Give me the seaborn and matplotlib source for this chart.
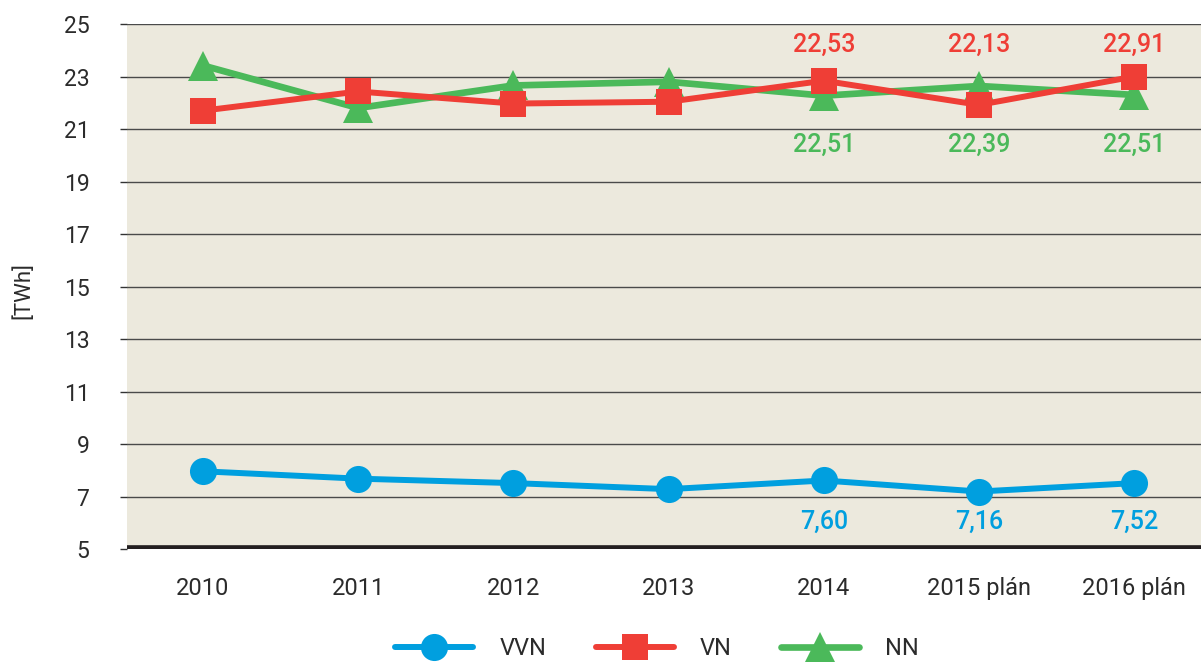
import matplotlib
matplotlib.use("Agg")
import matplotlib.pyplot as plt
import pandas as pd
import seaborn as sns

roky = ["2010", "2011", "2012", "2013", "2014", "2015 plán", "2016 plán"]
vvn = [7.96, 7.68, 7.51, 7.28, 7.61, 7.19, 7.51]
vn = [21.70, 22.43, 21.97, 22.04, 22.84, 21.92, 23.00]
nn = [23.42, 21.80, 22.66, 22.80, 22.27, 22.64, 22.30]

# popisky hodnot (jen posledni tri roky)
popisky_vvn = ["7,60", "7,16", "7,52"]
popisky_vn = ["22,53", "22,13", "22,91"]
popisky_nn = ["22,51", "22,39", "22,51"]

MODRA = "#009FDF"
CERVENA = "#EF3E36"
ZELENA = "#4BB95A"
POZADI = "#ECE9DD"
TEXT = "#2b2b2b"


def main() -> None:
    sns.set_theme(style="white")
    plt.rcParams["font.family"] = ["Roboto", "DejaVu Sans"]

    df = pd.DataFrame({"rok": roky, "VVN": vvn, "VN": vn, "NN": nn})

    fig = plt.figure(figsize=(12.01, 6.62), dpi=100)
    ax = fig.add_axes([0.1057, 0.1707, 0.8943, 0.7930])
    ax.set_facecolor(POZADI)

    sns.lineplot(data=df, x="rok", y="VVN", ax=ax, color=MODRA, marker="o",
                 markersize=19.5, linewidth=4.3, markeredgewidth=0, label="VVN",
                 sort=False, zorder=3)
    sns.lineplot(data=df, x="rok", y="NN", ax=ax, color=ZELENA, marker="^",
                 markersize=22, linewidth=4.8, markeredgewidth=0, label="NN",
                 sort=False, zorder=3)
    sns.lineplot(data=df, x="rok", y="VN", ax=ax, color=CERVENA, marker="s",
                 markersize=18.5, linewidth=4.3, markeredgewidth=0, label="VN",
                 sort=False, zorder=4)

    ax.set_ylim(5, 25)
    ax.set_xlim(-0.49, 6.43)
    ax.set_yticks(range(5, 26, 2))
    ax.set_xlabel("")
    ax.set_ylabel("[TWh]", fontsize=16, color=TEXT)
    ax.yaxis.set_label_coords(-0.086, 0.493)

    for y in range(7, 26, 2):
        ax.axhline(y, color="#4a4a4a", linewidth=1.0, zorder=1)
    ax.axhline(5, color="#231f20", linewidth=5.5, zorder=5)

    for s in ["left", "right", "top", "bottom"]:
        ax.spines[s].set_visible(False)

    ax.tick_params(axis="y", length=5, width=1, color="#333333", labelsize=16.5,
                   labelcolor=TEXT, pad=22, left=True)
    ax.tick_params(axis="x", length=0, labelsize=17, labelcolor=TEXT, pad=20)

    for i, t in enumerate(popisky_vn):
        ax.text(4 + i, 24.2, t, color=CERVENA, fontsize=18, fontweight="medium",
                ha="center", va="center")
    for i, t in enumerate(popisky_nn):
        ax.text(4 + i, 20.38, t, color=ZELENA, fontsize=18, fontweight="medium",
                ha="center", va="center")
    for i, t in enumerate(popisky_vvn):
        ax.text(4 + i, 6.03, t, color=MODRA, fontsize=18, fontweight="medium",
                ha="center", va="center")

    handles, labels = ax.get_legend_handles_labels()
    poradi = [labels.index(n) for n in ["VVN", "VN", "NN"]]
    ax.legend([handles[i] for i in poradi], [labels[i] for i in poradi],
              loc="center", bbox_to_anchor=(0.4935, -0.19), ncol=3,
              frameon=False, fontsize=17, handlelength=3.3, handletextpad=1.1,
              columnspacing=2.1, labelcolor=TEXT, borderpad=0, borderaxespad=0)

    fig.savefig("out.png", dpi=100, facecolor="white")
    plt.close(fig)


if __name__ == "__main__":
    main()
